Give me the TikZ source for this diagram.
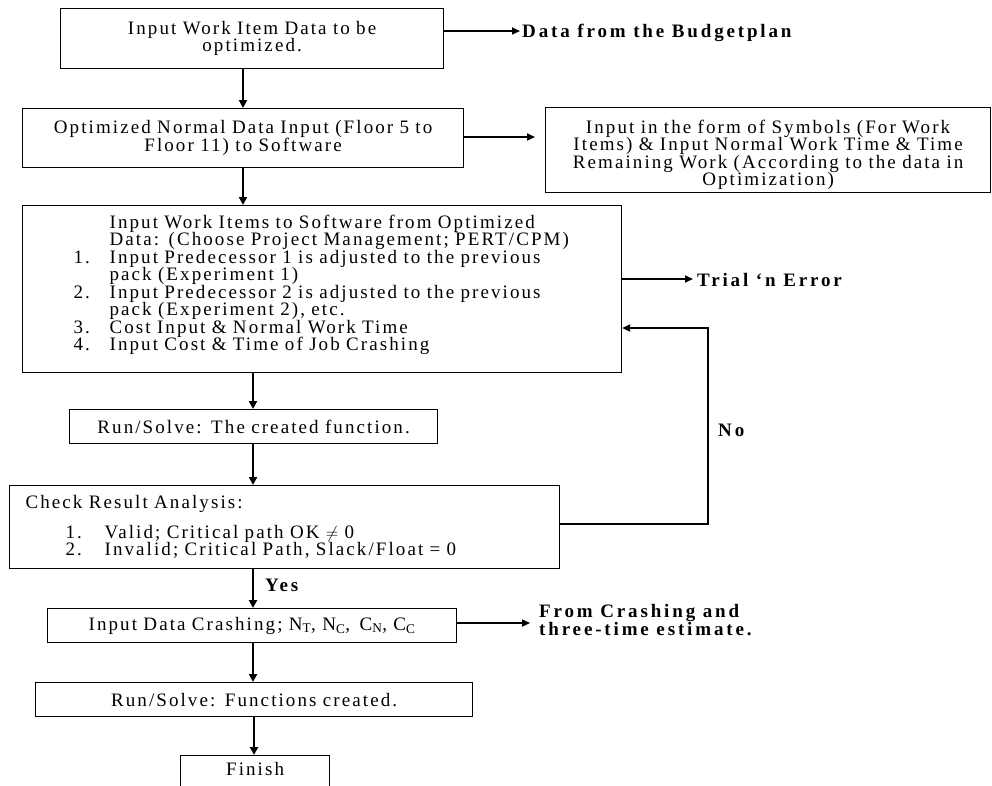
\documentclass[tikz,border=0pt]{standalone}
\usepackage{fontspec}
\setmainfont{Liberation Serif}[LetterSpace=11, BoldFeatures={LetterSpace=15}]
\usetikzlibrary{arrows.meta}
\newcommand\flnum[1]{\makebox[36pt][l]{#1}}
\newcommand\flnumb[1]{\makebox[39pt][l]{#1}}
\begin{document}
\begin{tikzpicture}[x=1pt,y=-1pt,
  box/.style={draw=black, line width=1.2pt, rectangle, inner xsep=2pt, inner ysep=2pt,
    anchor=north west, font=\fontsize{19}{17.5}\selectfont},
  cbox/.style={box, align=center},
  lbox/.style={box, align=left},
  lbl/.style={inner sep=0pt, anchor=base west, font=\bfseries\fontsize{19}{18}\selectfont, align=left},
  varrow/.style={line width=2.6pt, -{Triangle[length=8pt,width=8pt]}},
  harrow/.style={line width=1.6pt, -{Triangle[length=8pt,width=7pt]}},
  loopline/.style={line width=2.4pt, -{Triangle[length=8pt,width=7pt]}}
]
\useasboundingbox (0,0) rectangle (992,785);

% boxes
\node[cbox, minimum width=383pt, minimum height=60pt, text width=379pt] (b1) at (60,8)
  {Input Work Item Data to be\\optimized.};
\node[cbox, minimum width=441pt, minimum height=59pt, text width=437pt] (b2) at (22,108)
  {Optimized Normal Data Input (Floor 5 to\\Floor 11) to Software};
\node[cbox, minimum width=445pt, minimum height=85pt, text width=441pt] (s2) at (545,107)
  {\mbox{}\\[5.5pt]Input in the form of Symbols (For Work\\Items) \& Input Normal Work Time \& Time\\Remaining Work (According to the data in\\Optimization)};
\node[lbox, minimum width=599pt, minimum height=167pt, text width=595pt] (b3) at (22,205)
  {\hspace*{49pt}\flnum{}Input Work Items to Software from Optimized\\
   \hspace*{49pt}\flnum{}Data: (Choose Project Management; PERT/CPM)\\
   \hspace*{49pt}\flnum{1.}Input Predecessor 1 is adjusted to the previous\\
   \hspace*{49pt}\flnum{}pack (Experiment 1)\\
   \hspace*{49pt}\flnum{2.}Input Predecessor 2 is adjusted to the previous\\
   \hspace*{49pt}\flnum{}pack (Experiment 2), etc.\\
   \hspace*{49pt}\flnum{3.}Cost Input \& Normal Work Time\\
   \hspace*{49pt}\flnum{4.}Input Cost \& Time of Job Crashing\\[-5pt]\mbox{}};
\node[cbox, minimum width=368pt, minimum height=34pt, text width=364pt] (b4) at (69,409)
  {Run/Solve: The created function.};
\node[lbox, minimum width=550pt, minimum height=83pt, text width=546pt] (b5) at (9,485)
  {\hspace*{14pt}Check Result Analysis:\\[12.5pt]
   \hspace*{54pt}\flnumb{1.}Valid; Critical path OK $\neq$ 0\\
   \hspace*{54pt}\flnumb{2.}Invalid; Critical Path, Slack/Float = 0};
\node[cbox, minimum width=409pt, minimum height=34pt, text width=405pt] (b6) at (47,608)
  {Input Data Crashing; N\textsubscript{T}, N\textsubscript{C}, \,C\textsubscript{N}, C\textsubscript{C}};
\node[cbox, minimum width=437pt, minimum height=34pt, text width=433pt] (b7) at (35,682)
  {Run/Solve: Functions created.};
\node[cbox, minimum width=149pt, minimum height=40pt, text width=145pt, text height=13pt, text depth=14pt] (b8) at (180,755)
  {Finish};

% side labels
\node[lbl] (l1) at (522,37) {Data from the Budgetplan};
\node[lbl] (l3) at (697,286) {Trial ‘n Error};
\node[lbl] (lno) at (718,436) {No};
\node[lbl] (lyes) at (265,591) {Yes};
\node[lbl, anchor=north west, font=\bfseries\fontsize{19}{18}\selectfont] (l6) at (539,604) {From Crashing and\\three-time estimate.};

% helper coordinates
\coordinate (xa) at (243,0);
\coordinate (xb) at (253,0);
\coordinate (xc) at (254,0);
\coordinate (t1) at (520,31);
\coordinate (t3) at (693,279);
\coordinate (t6) at (530,623);
\coordinate (loopb) at (708,524);
\coordinate (loopt) at (708,328);

% vertical flow
\draw[varrow] (b1.south -| xa) -- (b2.north -| xa);
\draw[varrow] (b2.south -| xa) -- (b3.north -| xa);
\draw[varrow] (b3.south -| xb) -- (b4.north -| xb);
\draw[varrow] (b4.south -| xb) -- (b5.north -| xb);
\draw[varrow] (b5.south -| xb) -- (b6.north -| xb);
\draw[varrow] (b6.south -| xb) -- (b7.north -| xb);
\draw[varrow] (b7.south -| xc) -- (b8.north -| xc);

% horizontal arrows
\draw[harrow] (b1.east |- t1) -- (t1);
\draw[harrow, shorten >=10pt] (b2.east |- 0,137) -- (s2.west |- 0,137);
\draw[harrow] (b3.east |- t3) -- (t3);
\draw[harrow] (b6.east |- t6) -- (t6);

% No loop
\draw[loopline] (b5.east |- loopb) -- (loopb) -- (loopt) -- (b3.east |- loopt);
\end{tikzpicture}
\end{document}
